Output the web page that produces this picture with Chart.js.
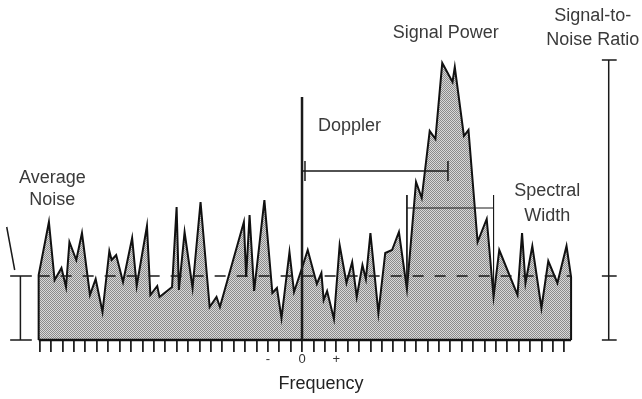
<!DOCTYPE html>
<html>
<head>
<meta charset="utf-8">
<script src="https://cdn.jsdelivr.net/npm/chart.js@4.4.1/dist/chart.umd.min.js"></script>
<style>
  html, body { margin: 0; padding: 0; background: #fff; }
  #wrap { width: 642px; height: 399px; position: relative; }
</style>
</head>
<body>
<div id="wrap"><canvas id="espectro"></canvas></div>
<script>
// Espectro Doppler: frecuencia (bins) y potencia (unidades arbitrarias)
const freq = [-23.1, -23.1, -22.2, -21.7, -21.1, -20.7, -20.4, -19.8, -19.3, -18.6, -18.1, -17.5,
  -16.9, -16.7, -16.3, -15.7, -14.9, -14.5, -13.6, -13.3, -12.7, -12.5, -11.4, -11.0, -10.8,
  -10.3, -9.6, -8.9, -8.1, -7.5, -7.2, -5.1, -4.9, -4.6, -4.2, -3.3, -2.6, -2.2, -1.8, -1.1,
  -0.7, 0.0, 0.5, 1.3, 1.7, 1.9, 2.2, 2.8, 3.3, 3.9, 4.4, 4.8, 5.3, 5.6, 6.0, 6.7, 7.3, 7.9,
  8.5, 9.2, 10.0, 10.5, 11.2, 11.7, 12.3, 13.2, 13.4, 14.2, 14.6, 15.4, 16.2, 16.8, 17.3,
  18.9, 19.3, 19.6, 20.2, 21.0, 21.6, 22.4, 23.2, 23.6, 23.6];
const power = [0, 6.5, 11.8, 6.0, 7.2, 5.3, 9.8, 8.0, 10.7, 4.5, 6.1, 2.8,
  8.9, 8.0, 8.5, 5.8, 10.2, 5.4, 11.4, 4.5, 5.4, 4.3, 5.3, 13.3, 5.0,
  10.8, 5.2, 13.8, 3.3, 4.3, 3.3, 11.8, 6.3, 12.5, 4.9, 14.0, 4.7, 5.2, 2.2, 8.8,
  4.8, 7.2, 9.0, 5.6, 6.7, 4.0, 4.9, 2.1, 9.5, 5.7, 7.8, 4.3, 7.5, 6.1, 10.7, 2.7, 8.7, 9.0,
  10.8, 5.1, 15.8, 14.2, 20.9, 20.1, 27.7, 25.8, 27.3, 20.4, 21.0, 9.8, 12.1, 4.3, 9.0,
  4.5, 10.7, 5.7, 9.4, 3.2, 7.9, 5.7, 9.4, 6.3, 0];

const noiseLevel = 6.4;        // ruido medio
const meanDoppler = 12.8;      // corrimiento Doppler
const dopplerLevel = 16.9;
const widthEdges = [9.2, 16.8]; // ancho espectral
const widthLevel = 13.2;
const peakPower = 28.0;
const zeroTop = 24.3;

// Marcas del eje x
const tickValues = [-23, -22, -21, -20, -19, -18, -17, -16, -15, -14, -13, -12, -11, -10, -9, -8,
  -7, -6, -5, -4, -3, -2, -1, 0, 1, 2, 3, 4, 5, 6, 7, 8, 9, 10, 11, 12, 13, 14, 15, 16, 17, 18,
  19, 20, 21, 22, 23];
const labelTicks = [-3, 0, 3];
const labelTexts = ['-', '0', '+'];

// Textos del diagrama (en unidades de datos)
const notas = [
  { text: 'Average', x: -21.9, y: 15.7 },
  { text: 'Noise', x: -21.9, y: 13.5 },
  { text: 'Signal Power', x: 12.6, y: 30.2 },
  { text: 'Signal-to-', x: 25.5, y: 31.9 },
  { text: 'Noise Ratio', x: 25.5, y: 29.5 },
  { text: 'Doppler', x: 1.4, y: 20.9, align: 'left' },
  { text: 'Spectral', x: 21.5, y: 14.4 },
  { text: 'Width', x: 21.5, y: 11.9 }
];

const pts = (xs, ys) => xs.map((x, i) => ({ x: x, y: ys[i] }));

// Textura punteada para el relleno
const tex = document.createElement('canvas');
tex.width = 2; tex.height = 2;
const tctx = tex.getContext('2d');
tctx.fillStyle = '#d8d8d8'; tctx.fillRect(0, 0, 2, 2);
tctx.fillStyle = '#8a8a8a'; tctx.fillRect(0, 0, 1, 1); tctx.fillRect(1, 1, 1, 1);
const relleno = tctx.createPattern(tex, 'repeat');

const lineaBase = { showLine: true, pointRadius: 0, tension: 0, fill: false, clip: false,
  borderColor: '#1a1a1a', order: 0 };

const textosPlugin = {
  id: 'textos',
  afterDraw(chart) {
    const { ctx, scales: { x, y } } = chart;
    ctx.save();
    ctx.fillStyle = '#3a3a3a';
    ctx.font = '18px "Liberation Sans", Arial, sans-serif';
    ctx.textBaseline = 'alphabetic';
    notas.forEach(n => {
      ctx.textAlign = n.align || 'center';
      ctx.fillText(n.text, x.getPixelForValue(n.x), y.getPixelForValue(n.y));
    });
    ctx.restore();
  }
};

new Chart(document.getElementById('espectro'), {
  type: 'line',
  data: {
    datasets: [
      { // linea de ruido medio
        ...lineaBase, borderWidth: 1.5, borderDash: [11, 11],
        data: pts([-23.1, 23.6], [noiseLevel, noiseLevel])
      },
      { // frecuencia cero
        ...lineaBase, borderWidth: 2.5,
        data: pts([0, 0], [0, zeroTop])
      },
      { // linea base
        ...lineaBase, borderWidth: 2.5, borderColor: '#111',
        data: pts([-23.1, 23.6], [0, 0])
      },
      { // corrimiento Doppler
        ...lineaBase, borderWidth: 1.5,
        data: pts([0, meanDoppler, null, meanDoppler, meanDoppler, null, 0.26, 0.26],
                  [dopplerLevel, dopplerLevel, null, dopplerLevel - 1, dopplerLevel + 1, null, dopplerLevel - 1, dopplerLevel + 1])
      },
      { // ancho espectral
        ...lineaBase, borderWidth: 1,
        data: pts([widthEdges[0], widthEdges[1], null, widthEdges[0], widthEdges[0], null, widthEdges[1], widthEdges[1]],
                  [widthLevel, widthLevel, null, 14.5, 5.1, null, 14.5, 4.3])
      },
      { // barra de ruido medio (izquierda)
        ...lineaBase, borderWidth: 1.5,
        data: pts([-24.7, -24.7, null, -25.6, -23.7, null, -25.6, -23.7, null, -25.9, -25.2],
                  [0, noiseLevel, null, noiseLevel, noiseLevel, null, 0, 0, null, 11.3, 7.0])
      },
      { // relacion senal-ruido (derecha)
        ...lineaBase, borderWidth: 1.5,
        data: pts([26.9, 26.9, null, 26.3, 27.6, null, 26.3, 27.6, null, 26.3, 27.6],
                  [0, peakPower, null, peakPower, peakPower, null, noiseLevel, noiseLevel, null, 0, 0])
      },
      { // espectro
        label: 'Espectro',
        data: pts(freq, power),
        showLine: true, pointRadius: 0, tension: 0, clip: false,
        borderColor: '#111', borderWidth: 2,
        backgroundColor: relleno, fill: 'origin', order: 10
      }
    ]
  },
  options: {
    responsive: true,
    maintainAspectRatio: false,
    animation: false,
    layout: { padding: 0 },
    plugins: { legend: { display: false }, tooltip: { enabled: false } },
    scales: {
      x: {
        type: 'linear',
        min: -26.49, max: 29.82,
        afterBuildTicks: scale => { scale.ticks = tickValues.map(v => ({ value: v })); },
        grid: { display: true, drawOnChartArea: false, drawTicks: true, tickLength: 12,
                color: '#222', lineWidth: 1.8 },
        border: { display: false },
        ticks: {
          padding: 0, autoSkip: false, maxRotation: 0,
          color: '#333', font: { size: 13, family: '"Liberation Sans", Arial, sans-serif' },
          callback: v => { const i = labelTicks.indexOf(v); return i >= 0 ? labelTexts[i] : ''; }
        },
        title: { display: true, text: 'Frequency', color: '#222',
                 font: { size: 18, family: '"Liberation Sans", Arial, sans-serif' },
                 padding: { top: 5.6, bottom: 4.2 } }
      },
      y: { display: false, min: 0, max: 34 }
    }
  },
  plugins: [textosPlugin]
});
</script>
</body>
</html>
